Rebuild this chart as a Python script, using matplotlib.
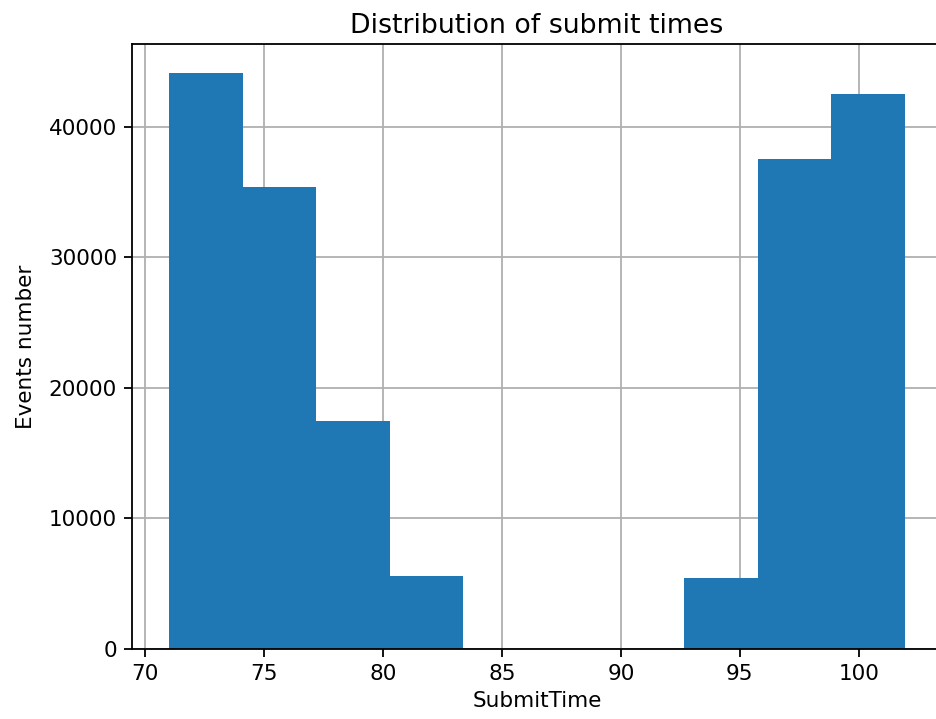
import matplotlib
matplotlib.use("Agg")
import matplotlib.pyplot as plt
import numpy as np

# Histogram of submit times
bin_edges = [71.0, 74.095, 77.19, 80.285, 83.38, 86.475, 89.57, 92.665, 95.76, 98.855, 101.95]
counts = [44100, 35350, 17450, 5550, 0, 0, 0, 5420, 37480, 42500]

fig = plt.figure(figsize=(9.37, 7.19), dpi=100)
ax = fig.add_axes([0.1412, 0.0978, 0.864, 0.8406])

ax.hist(bin_edges[:-1], bins=bin_edges, weights=counts, color='#1f77b4', zorder=2)
ax.grid(True, color='#b0b0b0', linewidth=1.3)
for line in ax.get_xgridlines() + ax.get_ygridlines():
    line.set_zorder(3)

ax.set_xticks([70, 75, 80, 85, 90, 95, 100])
ax.set_yticks([0, 10000, 20000, 30000, 40000])
ax.tick_params(labelsize=15.5, length=6, width=1.3, pad=5)
for s in ax.spines.values():
    s.set_linewidth(1.3)

ax.set_title("Distribution of submit times", fontsize=19.3, pad=8)
ax.set_xlabel("SubmitTime", fontsize=15.5, labelpad=5)
ax.set_ylabel("Events number", fontsize=15.5, labelpad=9)

fig.savefig("out.png", dpi=100)
